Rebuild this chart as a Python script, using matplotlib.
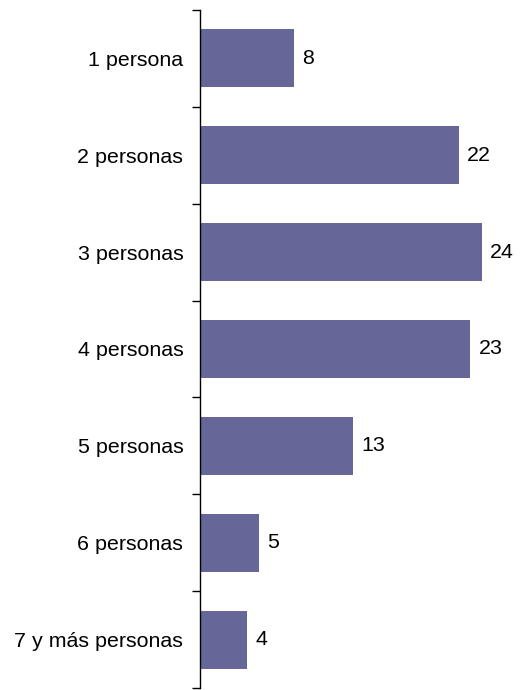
import numpy as np
import matplotlib.pyplot as plt

categories = ["1 persona", "2 personas", "3 personas", "4 personas",
              "5 personas", "6 personas", "7 y más personas"]
values = [8, 22, 24, 23, 13, 5, 4]

plt.rcParams['font.family'] = ['Liberation Sans', 'DejaVu Sans']

fig = plt.figure(figsize=(5.21, 6.90), dpi=100)
ax = fig.add_axes([200 / 521, 2 / 690, 321 / 521, 678 / 690])

y = np.arange(len(categories))
ax.barh(y, values, height=0.6, color="#666699")

for yi, v in zip(y, values):
    ax.annotate(str(v), (v, yi), xytext=(6, 0), textcoords="offset points",
                va="center", ha="left", fontsize=15.4)

ax.set_ylim(len(categories) - 0.5, -0.5)
ax.set_xlim(0, 321 / 11.75)
ax.set_yticks(y)
ax.set_yticklabels(categories, fontsize=15.4)
ax.set_yticks(np.arange(len(categories) + 1) - 0.5, minor=True)
ax.tick_params(axis="y", which="major", length=0, pad=12)
ax.tick_params(axis="y", which="minor", length=5.5, width=1)
ax.set_xticks([])
for s in ["top", "right", "bottom"]:
    ax.spines[s].set_visible(False)
ax.spines["left"].set_linewidth(1)

fig.savefig("out.png", dpi=100)
